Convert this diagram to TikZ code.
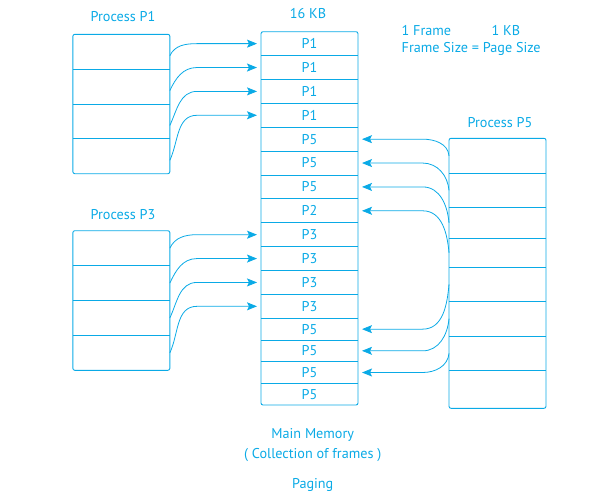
\documentclass[tikz,border=0pt]{standalone}
\usepackage{fontspec}
\setmainfont{PT Sans}
\usetikzlibrary{arrows.meta,positioning}
\definecolor{pagecyan}{RGB}{10,170,230}

\begin{document}
\begin{tikzpicture}[x=1pt,y=1pt,>={Stealth[length=10pt,width=8pt,inset=2pt]},
  every node/.style={text=pagecyan,inner sep=0pt,outer sep=0pt,font=\fontsize{14.2}{16}\selectfont},
  cell/.style={minimum width=97pt},
  box/.style={draw=pagecyan,line width=0.9pt,rounded corners=2pt},
  sep/.style={draw=pagecyan,line width=0.9pt},
  link/.style={->,draw=pagecyan,line width=0.8pt,shorten >=4pt}]
\useasboundingbox (0,0) rectangle (596,-499);

% main memory
\foreach \i/\lab in {1/P1,2/P1,3/P1,4/P1,5/P5,6/P5,7/P5,8/P2,9/P3,10/P3,11/P3,12/P3,13/P5,14/P5,15/P5,16/P5}{
  \pgfmathsetmacro\hh{\i<13 ? 23.88 : 21.68}
  \pgfmathsetmacro\yc{\i<13 ? 31.7+23.88*(\i-0.5) : 318.3+21.68*(\i-12.5)}
  \node[cell,minimum height=\hh pt] (m\i) at (309.5,-\yc) {\lab};
}
\foreach \i in {1,...,15}\draw[sep] (m\i.south west) -- (m\i.south east);
\draw[box] (m1.north west) rectangle (m16.south east);

% processes
\foreach \i in {1,...,4}{
  \node[cell,minimum height=34.85pt] (a\i) at (121.35,{-34.3-34.85*(\i-0.5)}) {};
  \node[cell,minimum height=34.9pt] (c\i) at (121.35,{-230.7-34.9*(\i-0.5)}) {};
}
\foreach \i/\t/\b in {1/138.3/173.3,2/173.3/207.3,3/207.3/238.3,4/238.3/267.3,
                      5/267.3/301.3,6/301.3/336,7/336/370.7,8/370.7/408.3}{
  \pgfmathsetmacro\hh{\b-\t}
  \node[cell,minimum height=\hh pt] (e\i) at (497.5,{-(\t+\b)/2}) {};
}
\foreach \i in {1,2,3}{
  \draw[sep] (a\i.south west) -- (a\i.south east);
  \draw[sep] (c\i.south west) -- (c\i.south east);
}
\foreach \i in {1,...,7}\draw[sep] (e\i.south west) -- (e\i.south east);
\draw[box] (a1.north west) rectangle (a4.south east);
\draw[box] (c1.north west) rectangle (c4.south east);
\draw[box] (e1.north west) rectangle (e8.south east);

\node[anchor=base] (tp1) at (123,-21.7) {Process P1};
\node[anchor=base] (tp3) at (123,-219) {Process P3};
\node[anchor=base] (tp5) at (500,-127.3) {Process P5};
\node[anchor=base] (kb) at (308,-18.3) {16 KB};
\node[anchor=base west] (fr) at (401.7,-35) {1 Frame};
\node[anchor=base west] (fkb) at (491.7,-35) {1 KB};
\node[anchor=base west] (fs) at (401.7,-52.7) {Frame Size = Page Size};
\node[anchor=base] (mm) at (312.7,-438.3) {Main Memory};
\node[anchor=base] (cf) at (312.7,-458.3) {( Collection of frames )};
\node[anchor=base] (pg) at (312.7,-488.3) {Paging};

% page table links
\foreach \i in {1,...,4}
  \draw[link] ([yshift=-4pt]a\i.east) to[out=65,in=180] ([xshift=-64pt]m\i.west) -- (m\i.west);
\foreach \i/\j in {1/9,2/10,3/11,4/12}
  \draw[link] (c\i.east) to[out=65,in=180] ([xshift=-64pt]m\j.west) -- (m\j.west);
\foreach \i/\j in {1/5,2/6,3/7,4/8}
  \draw[link] (e\i.west) to[out=95,in=0] ([xshift=64.7pt]m\j.east) -- (m\j.east);
\foreach \i/\j in {5/13,6/14,7/15}
  \draw[link] (e\i.west) to[out=265,in=0] ([xshift=64.7pt]m\j.east) -- (m\j.east);
\end{tikzpicture}
\end{document}
